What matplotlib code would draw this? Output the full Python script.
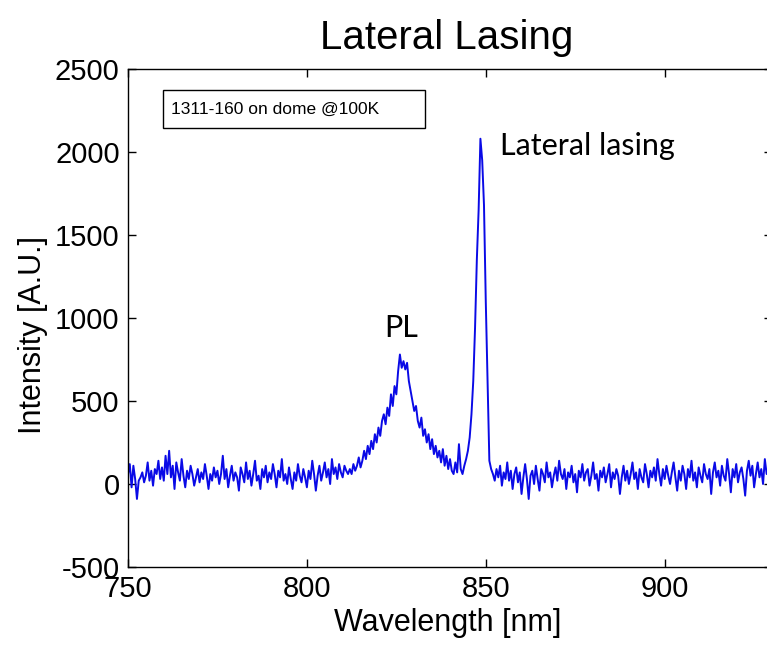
import numpy as np
import matplotlib
matplotlib.use("Agg")
import matplotlib.pyplot as plt
from matplotlib import font_manager
from matplotlib.patches import Rectangle

# Spectrum sampled every 0.5 nm starting at 750 nm
wavelength_start = 750.0
wavelength_step = 0.5

# 750.0 - 811.5 nm: noise floor before the PL band
noise_floor_short = [
    60, 120, -20, 110, 30, -90, 20, 40, 70, 10,
    50, 130, 20, 80, -10, 90, 60, 140, 30, 100,
    20, 170, 60, 200, 40, 110, -30, 130, 70, 20,
    150, 50, -20, 80, 30, 110, 60, -10, 40, 90,
    10, 70, 30, 120, 50, -30, 60, 20, 100, 40,
    80, 0, 60, 170, 30, 90, -20, 50, 110, 20,
    70, 40, -40, 100, 60, 10, 130, 30, 80, -10,
    60, 140, 20, 50, -30, 90, 40, 110, 10, 70,
    30, 120, 60, -20, 80, 40, 150, 20, 60, 0,
    100, 30, -30, 70, 20, 120, 50, 10, 90, 40,
    -20, 80, 30, 140, 60, -40, 50, 110, 20, 70,
    130, 40, 90, 0, 150, 60, 100, 30, 120, 70,
    40, 110, 80, 60,
]

# 812.0 - 843.5 nm: photoluminescence band
pl_band = [
    90, 60, 120, 80, 110, 160, 100, 140, 200, 150,
    230, 180, 260, 210, 300, 250, 340, 290, 380, 420,
    360, 460, 410, 540, 470, 590, 540, 680, 780, 700,
    740, 690, 730, 620, 560, 500, 440, 470, 380, 340,
    400, 290, 330, 250, 300, 210, 270, 180, 230, 160,
    200, 130, 210, 110, 170, 90, 150, 80, 60, 130,
    70, 240, 90, 60,
]

# 844.0 - 851.5 nm: lateral lasing line
lasing_line = [
    110, 150, 200, 280, 420, 620, 940, 1350, 1650, 2080,
    1950, 1680, 1100, 620, 140, 90,
]

# 852.0 - 930.0 nm: noise floor after the lasing line
noise_floor_long = [
    60, 20, 90, 40, 110, -10, 70, 30, 130, 20,
    80, -30, 60, 100, 10, 70, -60, 40, 120, 30,
    -90, 50, 80, 0, 110, 30, -40, 90, 60, 10,
    130, 40, 70, -20, 50, 100, 20, 140, 60, 30,
    90, -30, 70, 40, 110, 10, 60, -50, 80, 40,
    120, 20, 70, 90, -10, 50, 130, 30, 60, -40,
    80, 40, 100, 10, 60, 120, -20, 70, 30, 90,
    50, -60, 40, 110, 20, 80, 0, 60, 130, 30,
    70, -30, 90, 40, 10, 120, 60, -20, 80, 40,
    100, 20, 150, 60, -10, 90, 30, 110, 50, 0,
    70, 130, 40, -40, 80, 20, 110, 60, -30, 90,
    40, 140, 20, 70, -20, 100, 50, 10, 120, 60,
    30, 90, -60, 70, 130, 40, 80, -10, 110, 50,
    20, 150, 60, -50, 90, 40, 120, 10, 70, 100,
    30, -70, 80, 140, 50, 110, -20, 60, 130, 40,
    90, 0, 150, 60, 100, 30, 80,
]

x_ticks = [750, 800, 850, 900]
y_ticks = [-500, 0, 500, 1000, 1500, 2000, 2500]

intensity = np.array(noise_floor_short + pl_band + lasing_line + noise_floor_long, dtype=float)
wavelength = wavelength_start + wavelength_step * np.arange(intensity.size)

plt.rcParams["axes.unicode_minus"] = False

available = {f.name for f in font_manager.fontManager.ttflist}
axis_font = "Liberation Sans Narrow" if "Liberation Sans Narrow" in available else "Liberation Sans"
note_font = "Lato" if "Lato" in available else "DejaVu Sans"

W, H = 767, 647
fig = plt.figure(figsize=(W / 100, H / 100), dpi=100)
fig.patch.set_facecolor("white")

left, right, top, bottom = 128, 772, 69, 567
ax = fig.add_axes([left / W, 1 - bottom / H, (right - left) / W, (bottom - top) / H])
ax.plot(wavelength, intensity, color="#0a0ae6", lw=1.4)

ax.set_xlim(750, 930)
ax.set_ylim(-500, 2500)
ax.set_xticks(x_ticks)
ax.set_yticks(y_ticks)
ax.tick_params(direction="in", length=6, width=1, top=True, right=True,
               labelsize=21, pad=6, colors="black")
for lab in ax.get_xticklabels() + ax.get_yticklabels():
    lab.set_family(axis_font)
for s in ax.spines.values():
    s.set_linewidth(1.0)
    s.set_color("black")

fig.text(447 / W, 1 - 38 / H, "Lateral Lasing", ha="center", va="center",
         fontsize=29, family=axis_font)
fig.text(448 / W, 1 - 623 / H, "Wavelength [nm]", ha="center", va="center",
         fontsize=22, family=axis_font)
fig.text(33 / W, 1 - 335 / H, "Intensity [A.U.]", ha="center", va="center",
         rotation=90, fontsize=22, family=axis_font)

# sample annotation box
fig.add_artist(Rectangle((163 / W, 1 - 128 / H), (425 - 163) / W, (128 - 90) / H,
                         transform=fig.transFigure, facecolor="white",
                         edgecolor="black", lw=1.0))
fig.text(171 / W, 1 - 109 / H, "1311-160 on dome @100K", ha="left", va="center",
         fontsize=12.5, family=axis_font)

fig.text(500 / W, 1 - 146 / H, "Lateral lasing", ha="left", va="center",
         fontsize=22, family=note_font)
fig.text(401 / W, 1 - 328 / H, "PL", ha="center", va="center",
         fontsize=22, family=note_font)

fig.savefig("out.png", dpi=100, facecolor="white")
